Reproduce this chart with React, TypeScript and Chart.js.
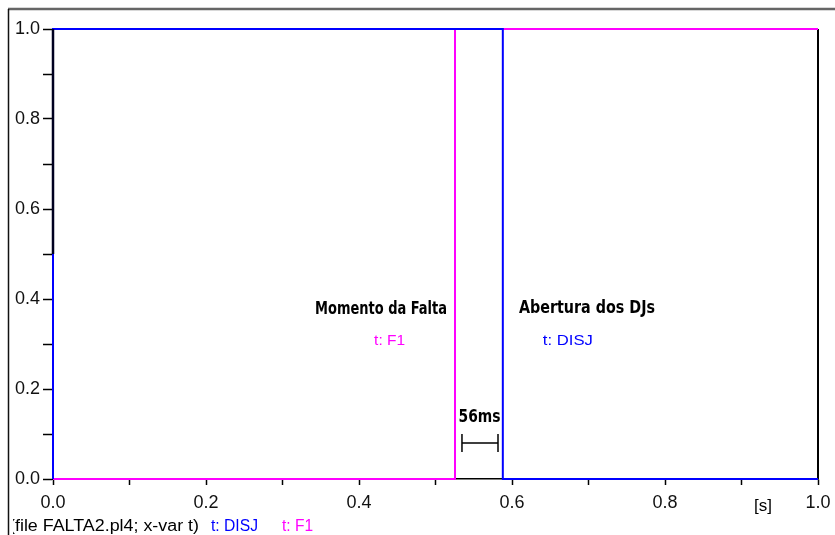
import React, { useEffect, useRef } from "react";
import { Chart, registerables } from "chart.js";

Chart.register(...registerables);

// ---- data ----
const disjTime = [0, 0, 0.588, 0.588, 1.0];
const disjValue = [0, 1, 1, 0, 0];
const f1Time = [0, 0.5255, 0.5255, 1.0];
const f1Value = [0, 0, 1, 1];
const seriesNames = ["t: DISJ", "t: F1"];
const seriesColors = ["#0000ff", "#ff00ff"];
const fileLabel = "(file FALTA2.pl4; x-var t)";
const xUnit = "[s]";
const faultLabel = "Momento da Falta";
const openLabel = "Abertura dos DJs";
const delayLabel = "56ms";

const W = 835;
const H = 535;

function fitText(ctx: CanvasRenderingContext2D, text: string, x: number, cy: number, width: number, align: "center" | "left" = "center") {
  const m = ctx.measureText(text).width;
  const sx = width / m;
  ctx.save();
  ctx.translate(x, cy);
  ctx.scale(sx, 1);
  ctx.textAlign = align;
  ctx.textBaseline = "middle";
  ctx.fillText(text, 0, 0);
  ctx.restore();
}

const overlay = {
  id: "overlay",
  beforeDraw(chart: any) {
    const ctx = chart.ctx as CanvasRenderingContext2D;
    ctx.save();
    ctx.fillStyle = "#ffffff";
    ctx.fillRect(0, 0, chart.width, chart.height);
    // outer frame
    ctx.strokeStyle = "#666666";
    ctx.lineWidth = 2.5;
    ctx.beginPath();
    ctx.moveTo(8, 9);
    ctx.lineTo(chart.width, 9);
    ctx.stroke();
    ctx.strokeStyle = "#111111";
    ctx.lineWidth = 1.5;
    ctx.beginPath();
    ctx.moveTo(8.5, 9);
    ctx.lineTo(8.5, chart.height);
    ctx.stroke();
    ctx.restore();
  },
  beforeDatasetsDraw(chart: any) {
    const ctx = chart.ctx as CanvasRenderingContext2D;
    const a = chart.chartArea;
    ctx.save();
    ctx.strokeStyle = "#000000";
    ctx.lineWidth = 2;
    ctx.beginPath();
    ctx.moveTo(a.right, a.top);
    ctx.lineTo(a.right, a.bottom);
    ctx.stroke();
    ctx.restore();
  },
  afterDatasetsDraw(chart: any) {
    const ctx = chart.ctx as CanvasRenderingContext2D;
    const xs = chart.scales.x;
    const ys = chart.scales.y;
    const px = (v: number) => xs.getPixelForValue(v);
    const py = (v: number) => ys.getPixelForValue(v);
    ctx.save();
    // dark segment on the y axis (0.5 .. 1.0)
    ctx.strokeStyle = "#000020";
    ctx.lineWidth = 2.5;
    ctx.beginPath();
    ctx.moveTo(px(0), py(0.5));
    ctx.lineTo(px(0), py(1));
    ctx.stroke();

    // annotations
    ctx.fillStyle = "#000000";
    ctx.font = "bold 18px 'Liberation Sans Narrow', 'DejaVu Sans Condensed', sans-serif";
    fitText(ctx, faultLabel, px(0.4288), py(0.378), 132);
    fitText(ctx, openLabel, px(0.698), py(0.38), 136);
    fitText(ctx, delayLabel, px(0.5575), py(0.138), 42);

    ctx.font = "15px 'Liberation Sans', Arial, sans-serif";
    ctx.fillStyle = seriesColors[1];
    fitText(ctx, seriesNames[1], px(0.44), py(0.307), 31);
    ctx.fillStyle = seriesColors[0];
    fitText(ctx, seriesNames[0], px(0.673), py(0.307), 50);

    // 56 ms dimension marker
    const x1 = px(0.5346);
    const x2 = px(0.5817);
    const ym = py(0.08);
    ctx.strokeStyle = "#000000";
    ctx.lineWidth = 1.5;
    ctx.beginPath();
    ctx.moveTo(x1, ym);
    ctx.lineTo(x2, ym);
    ctx.moveTo(x1, ym - 9);
    ctx.lineTo(x1, ym + 9);
    ctx.moveTo(x2, ym - 9);
    ctx.lineTo(x2, ym + 9);
    ctx.stroke();

    // unit label
    ctx.fillStyle = "#000000";
    ctx.font = "17px 'Liberation Sans', Arial, sans-serif";
    ctx.textAlign = "center";
    ctx.textBaseline = "middle";
    ctx.fillText(xUnit, 763, 506);

    // bottom legend line
    ctx.save();
    ctx.beginPath();
    ctx.rect(13, 510, chart.width, 30);
    ctx.clip();
    ctx.font = "16px 'Liberation Sans', Arial, sans-serif";
    ctx.fillStyle = "#000000";
    fitText(ctx, fileLabel, 9, 527, 190, "left");
    ctx.fillStyle = seriesColors[0];
    fitText(ctx, seriesNames[0], 211, 527, 47, "left");
    ctx.fillStyle = seriesColors[1];
    fitText(ctx, seriesNames[1], 282, 527, 31, "left");
    ctx.restore();

    ctx.restore();
  },
};

const labelEvery02 = (v: any) => {
  const n = Number(v);
  return Math.abs(n * 5 - Math.round(n * 5)) < 1e-6 ? n.toFixed(1) : "";
};

export default function App() {
  const ref = useRef<HTMLCanvasElement | null>(null);
  useEffect(() => {
    if (!ref.current) return;
    Chart.defaults.font.family = "'Liberation Sans', Arial, sans-serif";
    const chart = new Chart(ref.current, {
      type: "line",
      data: {
        datasets: [
          {
            label: seriesNames[0],
            data: disjTime.map((t, i) => ({ x: t, y: disjValue[i] })),
            borderColor: seriesColors[0],
            borderWidth: 2,
            pointRadius: 0,
            tension: 0,
            clip: false as any,
          },
          {
            label: seriesNames[1],
            data: f1Time.map((t, i) => ({ x: t, y: f1Value[i] })),
            borderColor: seriesColors[1],
            borderWidth: 2,
            pointRadius: 0,
            tension: 0,
            clip: false as any,
          },
        ],
      },
      options: {
        responsive: false,
        animation: false,
        events: [],
        layout: { padding: { left: 0, top: 29, right: 17, bottom: 0 } },
        plugins: { legend: { display: false }, tooltip: { enabled: false } },
        scales: {
          x: {
            type: "linear",
            min: 0,
            max: 1,
            afterFit: (s: any) => {
              s.height = 56;
              s.paddingLeft = 0;
              s.paddingRight = 0;
            },
            ticks: {
              stepSize: 0.1,
              autoSkip: false,
              maxRotation: 0,
              padding: 7,
              color: "#111111",
              font: { size: 18 },
              callback: labelEvery02,
            },
            grid: {
              drawOnChartArea: false,
              drawTicks: true,
              tickLength: 6,
              tickColor: "#000000",
              tickWidth: 1.5,
            },
            border: { display: true, color: "#000000", width: 1.5 },
          },
          y: {
            type: "linear",
            min: 0,
            max: 1,
            afterFit: (s: any) => {
              s.width = 53;
              s.paddingTop = 0;
              s.paddingBottom = 0;
            },
            ticks: {
              stepSize: 0.1,
              autoSkip: false,
              padding: 3,
              color: "#111111",
              font: { size: 18 },
              callback: labelEvery02,
            },
            grid: {
              drawOnChartArea: false,
              drawTicks: true,
              tickLength: 10,
              tickColor: "#000000",
              tickWidth: 1.5,
            },
            border: { display: true, color: "#000000", width: 2 },
          },
        },
      } as any,
      plugins: [overlay],
    });
    return () => chart.destroy();
  }, []);
  return (
    <div style={{ position: "fixed", left: 0, top: 0, width: W, height: H, background: "#fff" }}>
      <canvas ref={ref} width={W} height={H} style={{ width: W, height: H, display: "block" }} />
    </div>
  );
}
